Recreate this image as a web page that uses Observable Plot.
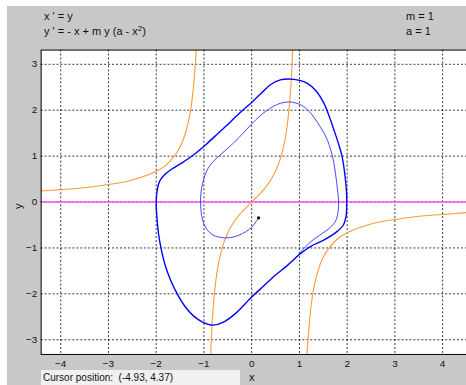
<!DOCTYPE html>
<html><head><meta charset="utf-8">
<script src="https://cdn.jsdelivr.net/npm/d3@7"></script>
<script src="https://cdn.jsdelivr.net/npm/@observablehq/plot@0.6"></script>
<style>
body{margin:0;background:#fff;}
#wrap{position:relative;width:466px;height:385px;overflow:hidden;font-family:"Liberation Sans",Arial,sans-serif;color:#111;}
#panel{position:absolute;left:7px;top:6px;right:0;bottom:0;background:#c8c8c8;}
#chart{position:absolute;left:0;top:0;}
.t{position:absolute;white-space:pre;line-height:1;font-size:11px;}
.t sup{font-size:8px;vertical-align:4px;line-height:0;}
#cursor{position:absolute;left:41px;top:370px;width:199px;height:15px;background:#f0f0f0;font-size:10px;line-height:15px;padding-left:2px;box-sizing:border-box;white-space:pre;}
</style></head><body>
<div id="wrap">
<div id="panel"></div>
<div id="chart"></div>
<div class="t" style="left:44px;top:11px">x ' = y</div>
<div class="t" style="left:44px;top:26px">y ' = - x + m y (a - x<sup>2</sup>)</div>
<div class="t" style="left:406px;top:11px">m = 1</div>
<div class="t" style="left:406px;top:26px">a = 1</div>
<div id="cursor">Cursor position:  (-4.93, 4.37)</div>
<div class="t" style="left:249px;top:372px">x</div>
<div class="t" style="left:13px;top:197px;transform:rotate(-90deg);transform-origin:6px 6px">y</div>
</div>
<script>
// tick values
const xTicks = [-4, -3, -2, -1, 0, 1, 2, 3, 4];
const yTicks = [-3, -2, -1, 0, 1, 2, 3];

// x' = 0 nullcline (y = 0)
const xNullY = [0];

// y' = 0 nullcline, three branches
const leftX  = [-4.42, -4.0, -3.5, -3.0, -2.5, -2.0, -1.8, -1.6, -1.5, -1.4, -1.3, -1.25, -1.2, -1.16];
const leftY  = [0.24, 0.27, 0.31, 0.38, 0.48, 0.67, 0.80, 1.03, 1.20, 1.46, 1.88, 2.22, 2.73, 3.31];
const midX   = [-0.857, -0.83, -0.8, -0.75, -0.7, -0.6, -0.5, -0.4, -0.3, -0.2, 0, 0.2, 0.3, 0.4, 0.5, 0.6, 0.7, 0.75, 0.8, 0.83, 0.857];
const midY   = [-3.31, -2.66, -2.22, -1.71, -1.37, -0.94, -0.67, -0.48, -0.33, -0.21, 0, 0.21, 0.33, 0.48, 0.67, 0.94, 1.37, 1.71, 2.22, 2.66, 3.31];
const rightX = [1.16, 1.2, 1.25, 1.3, 1.4, 1.5, 1.6, 1.8, 2.0, 2.5, 3.0, 3.5, 4.0, 4.5];
const rightY = [-3.31, -2.73, -2.22, -1.88, -1.46, -1.20, -1.03, -0.80, -0.67, -0.48, -0.38, -0.31, -0.27, -0.23];

// trajectory: transient spiral from the start point
const startX = [0.145];
const startY = [-0.345];
const transX = [0.145, 0.07, -0.01, -0.13, -0.26, -0.42, -0.57, -0.70, -0.81, -0.92, -0.99, -1.05, -1.07, -1.06, -1.01, -0.91, -0.73, -0.5, -0.27, -0.01, 0.2, 0.4, 0.6, 0.78, 0.95, 1.09, 1.25, 1.38, 1.50, 1.59, 1.66, 1.72, 1.78, 1.81, 1.82, 1.81, 1.75, 1.58, 1.37, 1.2, 1.0];
const transY = [-0.345, -0.46, -0.56, -0.65, -0.72, -0.77, -0.78, -0.76, -0.72, -0.62, -0.50, -0.29, 0, 0.22, 0.48, 0.74, 0.96, 1.17, 1.40, 1.69, 1.90, 2.05, 2.15, 2.18, 2.15, 2.08, 1.92, 1.73, 1.53, 1.34, 1.12, 0.86, 0.43, 0.15, 0, -0.21, -0.43, -0.61, -0.76, -0.9, -1.12];

// limit cycle
const cycX = [1.0, 0.75, 0.5, 0.25, 0, -0.33, -0.6, -0.81, -1.02, -1.22, -1.40, -1.56, -1.70, -1.82, -1.90, -1.95, -1.98, -2.0, -1.98, -1.93, -1.82, -1.67, -1.45, -1.2, -0.95, -0.7, -0.45, -0.2, 0.0, 0.2, 0.4, 0.6, 0.78, 1.0, 1.16, 1.35, 1.51, 1.62, 1.72, 1.81, 1.89, 1.94, 1.97, 1.99, 1.99, 1.98, 1.92, 1.78, 1.51, 1.23, 1.0];
const cycY = [-1.14, -1.38, -1.59, -1.83, -2.07, -2.42, -2.62, -2.68, -2.62, -2.48, -2.27, -2.0, -1.70, -1.35, -1.0, -0.70, -0.40, 0, 0.25, 0.45, 0.60, 0.72, 0.86, 1.04, 1.26, 1.50, 1.74, 1.99, 2.17, 2.37, 2.56, 2.66, 2.68, 2.65, 2.59, 2.42, 2.16, 1.88, 1.58, 1.30, 1.01, 0.70, 0.43, 0.15, 0, -0.29, -0.50, -0.65, -0.83, -0.97, -1.14];

const orange = "#ff9933";
const grid = {stroke: "#000", strokeOpacity: 0.8, strokeDasharray: "2,2"};

const plot = Plot.plot({
  width: 470, height: 385,
  marginLeft: 41, marginTop: 50, marginBottom: 28, marginRight: 0,
  style: {background: "transparent", fontFamily: "Liberation Sans, Arial, sans-serif", fontSize: "10px", color: "#111", overflow: "visible"},
  x: {domain: [-4.41, 4.50]},
  y: {domain: [-3.32, 3.31]},
  marks: [
    Plot.frame({fill: "white"}),
    Plot.gridX(xTicks, grid),
    Plot.gridY(yTicks, grid),
    Plot.ruleY(xNullY, {stroke: "#ff55ff", strokeWidth: 1.5}),
    Plot.line(leftX, {x: leftX, y: leftY, stroke: orange, strokeWidth: 1.1, curve: "catmull-rom", clip: true}),
    Plot.line(midX, {x: midX, y: midY, stroke: orange, strokeWidth: 1.1, curve: "catmull-rom", clip: true}),
    Plot.line(rightX, {x: rightX, y: rightY, stroke: orange, strokeWidth: 1.1, curve: "catmull-rom", clip: true}),
    Plot.line(transX, {x: transX, y: transY, stroke: "#4444ff", strokeWidth: 1, curve: "catmull-rom"}),
    Plot.line(cycX, {x: cycX, y: cycY, stroke: "#0000ff", strokeWidth: 1.4, curve: "catmull-rom"}),
    Plot.dot(startX, {x: startX, y: startY, r: 1.6, fill: "black"}),
    Plot.frame({stroke: "black"}),
    Plot.axisX(xTicks, {tickSize: 0, tickPadding: 6, label: null, fontSize: 10}),
    Plot.axisY(yTicks, {tickSize: 0, tickPadding: 4, label: null, fontSize: 10})
  ]
});
document.getElementById("chart").appendChild(plot);
</script>
</body></html>
